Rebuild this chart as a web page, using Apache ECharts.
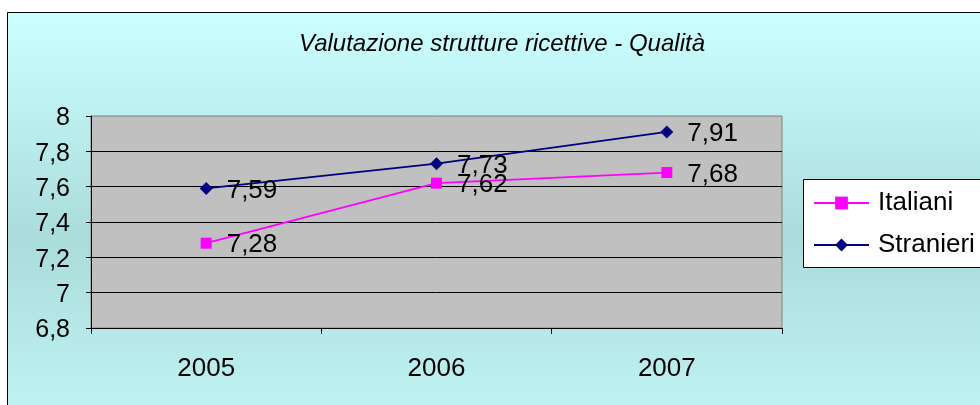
<!DOCTYPE html>
<html>
<head>
<meta charset="utf-8">
<script src="https://cdn.jsdelivr.net/npm/echarts@6/dist/echarts.min.js"></script>
<style>
html, body { margin: 0; padding: 0; background: #fff; }
#chart { width: 980px; height: 405px; }
</style>
</head>
<body>
<div id="chart"></div>
<script>
var years = ['2005', '2006', '2007'];
var italiani = [7.28, 7.62, 7.68];
var stranieri = [7.59, 7.73, 7.91];
var seriesNames = ['Italiani', 'Stranieri'];

var font = 'Liberation Sans, Arial, sans-serif';

function comma(v, d) {
	return v.toFixed(d).replace('.', ',');
}

var chart = echarts.init(document.getElementById('chart'));

chart.setOption({
	animation : false,
	graphic : [ {
		type : 'rect',
		z : -100,
		shape : { x : 7.5, y : 12.5, width : 1000, height : 500 },
		style : {
			stroke : '#000',
			lineWidth : 1,
			fill : new echarts.graphic.LinearGradient(0, 0, 0, 1, [
				{ offset : 0, color : '#ccffff' },
				{ offset : 0.45, color : '#aadcdc' },
				{ offset : 1, color : '#ccffff' }
			])
		}
	}, {
		// legend box runs past the right edge, as in the original
		type : 'rect',
		z : 1,
		shape : { x : 803.5, y : 179.5, width : 220, height : 88 },
		style : { stroke : '#000', lineWidth : 1, fill : '#fff' }
	} ],
	title : {
		text : 'Valutazione strutture ricettive - Qualità',
		left : 497,
		textAlign : 'center',
		top : 27,
		textStyle : {
			fontFamily : font,
			fontSize : 24,
			fontStyle : 'italic',
			fontWeight : 'normal',
			color : '#000'
		}
	},
	legend : {
		data : seriesNames,
		orient : 'vertical',
		left : 803,
		top : 179,
		padding : [ 11, 10, 9, 10 ],
		itemGap : 16,
		itemWidth : 55,
		itemHeight : 16,
		textStyle : {
			fontFamily : font,
			fontSize : 26,
			color : '#000',
			padding : [ 0, 0, 0, 4 ]
		}
	},
	grid : {
		left : 91,
		right : 198,
		top : 116,
		bottom : 77,
		show : true,
		backgroundColor : '#c0c0c0',
		borderColor : '#808080',
		borderWidth : 1
	},
	xAxis : {
		type : 'category',
		data : years,
		boundaryGap : true,
		axisLine : { lineStyle : { color : '#000', width : 1 } },
		axisTick : { show : true, length : 6, lineStyle : { color : '#000' } },
		axisLabel : {
			margin : 28,
			fontFamily : font,
			fontSize : 26,
			color : '#000'
		}
	},
	yAxis : {
		type : 'value',
		min : 6.8,
		max : 8,
		interval : 0.2,
		axisLine : { show : true, lineStyle : { color : '#000', width : 1 } },
		axisTick : { show : true, length : 5, lineStyle : { color : '#000' } },
		splitLine : { showMaxLine : false, lineStyle : { color : '#000', width : 1 } },
		axisLabel : {
			margin : 21,
			fontFamily : font,
			fontSize : 25,
			lineHeight : 29,
			verticalAlign : 'top',
			padding : [ -12, 0, 0, 0 ],
			color : '#000',
			formatter : function(v) {
				return String(+v.toFixed(1)).replace('.', ',');
			}
		}
	},
	series : [ {
		name : seriesNames[0],
		type : 'line',
		data : italiani,
		color : '#ff00ff',
		symbol : 'rect',
		symbolSize : 11,
		lineStyle : { width : 1.8 },
		label : {
			show : true,
			position : 'right',
			distance : 15,
			offset : [ 0, 2 ],
			fontFamily : font,
			fontSize : 26,
			color : '#000',
			formatter : function(p) { return comma(p.value, 2); }
		}
	}, {
		name : seriesNames[1],
		type : 'line',
		data : stranieri,
		color : '#000080',
		symbol : 'diamond',
		symbolSize : 13,
		lineStyle : { width : 1.8 },
		label : {
			show : true,
			position : 'right',
			distance : 14,
			offset : [ 0, 2 ],
			fontFamily : font,
			fontSize : 26,
			color : '#000',
			formatter : function(p) { return comma(p.value, 2); }
		}
	} ]
});
</script>
</body>
</html>
